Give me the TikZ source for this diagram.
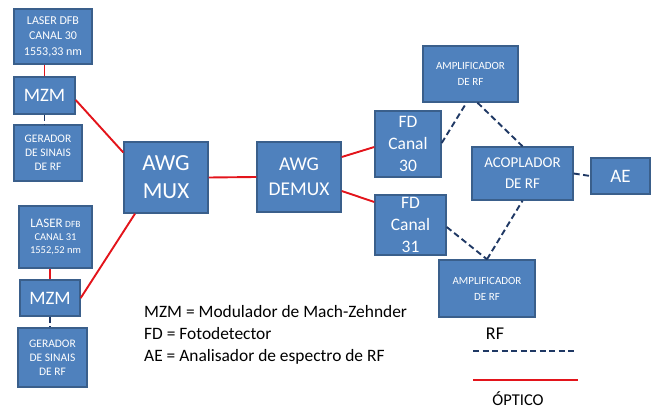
\documentclass[tikz,border=0pt]{standalone}
\usepackage{fontspec}
\setmainfont{Carlito}
\definecolor{boxfill}{HTML}{4F81BD}
\definecolor{boxedge}{HTML}{3A5F8B}
\definecolor{optred}{HTML}{E3141B}
\definecolor{rfnavy}{HTML}{1F3864}
\newcommand{\fsz}[2]{\fontsize{#1}{#2}\selectfont}
\begin{document}
\begin{tikzpicture}[x=1pt,y=-1pt,
  blk/.style={draw=boxedge,fill=boxfill,line width=1.4pt,text=white,
    align=center,inner sep=0pt,anchor=center},
  optical/.style={draw=optred,line width=1.9pt},
  rfline/.style={draw=rfnavy,line width=1.9pt,dash pattern=on 6pt off 3.5pt},
  keytext/.style={anchor=west,font=\fsz{17.4}{20},inner sep=0pt}]
\useasboundingbox (0,0) rectangle (657,409);

% transmitter, channel 30
\node[blk,minimum width=78pt,minimum height=55pt,font=\fsz{12}{15.5}] (laserA) at (53,36.5)
  {LASER DFB\\CANAL 30\\1553,33 nm};
\node[blk,minimum width=61pt,minimum height=37pt,font=\fsz{19}{22}] (mzmA) at (44.5,95.5) {MZM};
\node[blk,minimum width=68pt,minimum height=56pt,font=\fsz{11.5}{14}] (genA) at (48,153)
  {GERADOR\\DE SINAIS\\DE RF};

% transmitter, channel 31
\node[blk,minimum width=73pt,minimum height=62pt,font=\fsz{10.5}{13}] (laserB) at (55.5,237)
  {{\fsz{13}{15}LASER}~{\fsz{9.5}{12}DFB}\\CANAL 31\\1552,52 nm};
\node[blk,minimum width=60pt,minimum height=36pt,font=\fsz{19}{22}] (mzmB) at (50,298) {MZM};
\node[blk,minimum width=69pt,minimum height=59pt,font=\fsz{11.5}{14}] (genB) at (52.5,357.5)
  {GERADOR\\DE SINAIS\\DE RF};

% multiplexing
\node[blk,minimum width=84pt,minimum height=71pt,font=\fsz{23}{28}] (mux) at (166,177.5) {AWG\\MUX};
\node[blk,minimum width=84pt,minimum height=70pt,font=\fsz{19.5}{25}] (demux) at (299,177) {AWG\\DEMUX};

% receivers and RF chain
\node[blk,minimum width=66pt,minimum height=66pt,font=\fsz{17.5}{22}] (fdA) at (408,144) {FD\\Canal\\30};
\node[blk,minimum width=71pt,minimum height=60pt,font=\fsz{17.5}{22}] (fdB) at (410.5,225) {FD\\Canal\\31};
\node[blk,minimum width=95pt,minimum height=56pt,font=\fsz{11}{16}] (ampA) at (470.5,74) {AMPLIFICADOR\\DE RF};
\node[blk,minimum width=96pt,minimum height=57pt,font=\fsz{11}{16}] (ampB) at (487,288.5) {AMPLIFICADOR\\DE RF};
\node[blk,minimum width=101pt,minimum height=53pt,font=\fsz{15}{21}] (acop) at (522.5,173.5) {ACOPLADOR\\DE RF};
\node[blk,minimum width=59pt,minimum height=36pt,font=\fsz{19}{22}] (ae) at (620.5,176) {AE};

% optical links
\draw[optical] (mzmA.north) -- (mzmA.north |- laserA.south);
\draw[optical] (mzmB.north) -- (mzmB.north |- laserB.south);
\draw[optical] ([yshift=-4.5pt]mzmA.east) -- ([yshift=25pt]mux.west);
\draw[optical] (mzmB.east) -- ([xshift=-31pt]mux.south);
\draw[optical] (mux.east) -- (demux.west);
\draw[optical] ([yshift=20pt]demux.east) -- ([yshift=-3pt]fdA.west);
\draw[optical] ([yshift=-14pt]demux.east) -- ([yshift=23pt]fdB.west);

% RF links
\draw[rfline] (mzmA.south) -- (mzmA.south |- genA.north);
\draw[rfline] (mzmB.south) -- (mzmB.south |- genB.north);
\draw[rfline] ([yshift=1pt]fdA.east) -- ([xshift=-4pt]ampA.south);
\draw[rfline] ([xshift=7pt]ampA.south) -- (acop.north);
\draw[rfline] ([yshift=-2pt]fdB.east) -- (ampB.north);
\draw[rfline] (ampB.north) -- (acop.south);
\draw[rfline] (acop.east) -- (ae.west);

% key
\node[keytext] (keyA) at (144,312) {MZM = Modulador de Mach-Zehnder};
\node[keytext] (keyB) at (144,334) {FD = Fotodetector};
\node[keytext] (keyC) at (144,357) {AE = Analisador de espectro de RF};

\node[font=\fsz{18}{20},inner sep=0pt] (rftxt) at (495,334) {RF};
\coordinate (rfL) at (473,351);
\coordinate (rfR) at (577,351);
\draw[rfline] (rfL) -- (rfR);
\coordinate (opL) at (473,380);
\coordinate (opR) at (578,380);
\draw[optical] (opL) -- (opR);
\node[font=\fsz{16.5}{18},inner sep=0pt] (optxt) at (518,399) {ÓPTICO};
\end{tikzpicture}
\end{document}
